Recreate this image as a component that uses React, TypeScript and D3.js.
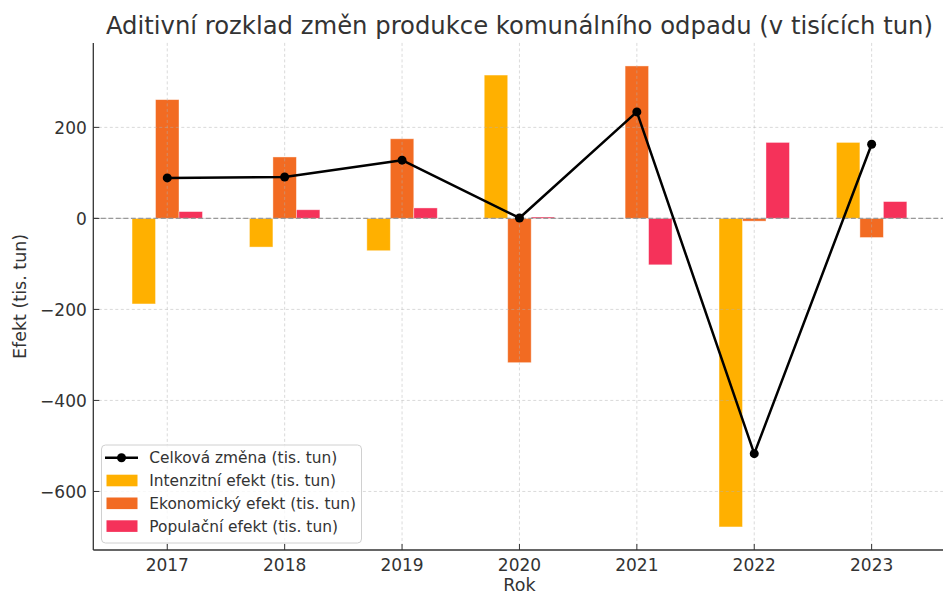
import React, { useEffect, useRef } from 'react';
import * as d3 from 'd3';

const years = [2017, 2018, 2019, 2020, 2021, 2022, 2023];
const intensity = [-188, -63, -71, 315, 0, -678, 167];
const economic = [261, 135, 175, -317, 335, -6, -42];
const population = [15, 19, 23, 3, -102, 167, 37];
const total = [89, 91, 128, 1, 234, -517, 163];
const yTicks = [-600, -400, -200, 0, 200];

const seriesNames = [
  'Intenzitní efekt (tis. tun)',
  'Ekonomický efekt (tis. tun)',
  'Populační efekt (tis. tun)',
];
const seriesColors = ['#FFB000', '#F26B22', '#F5325A'];
const totalName = 'Celková změna (tis. tun)';

const W = 943;
const H = 595;
const font = 'DejaVu Sans, sans-serif';
const textColor = '#333333';

export default function App() {
  const ref = useRef<SVGSVGElement>(null);

  useEffect(() => {
    const svg = d3.select(ref.current);
    svg.selectAll('*').remove();

    const left = 93.3, right = 945.6, top = 42.9, bottom = 550;
    const barW = 0.2;

    const allVals = [...intensity, ...economic, ...population, ...total, 0];
    const lo = d3.min(allVals)!, hi = d3.max(allVals)!;
    const pad = (hi - lo) * 0.05;
    const xLo = years[0] - 1.5 * barW, xHi = years[years.length - 1] + 1.5 * barW;
    const xPad = (xHi - xLo) * 0.05;

    const x = d3.scaleLinear().domain([xLo - xPad, xHi + xPad]).range([left, right]);
    const y = d3.scaleLinear().domain([lo - pad, hi + pad]).range([bottom, top]);

    const series = [intensity, economic, population];
    const g = svg.append('g');

    // bars
    series.forEach((vals, si) => {
      const off = (si - 1) * barW;
      g.selectAll(null)
        .data(vals)
        .enter()
        .append('rect')
        .attr('x', (d, i) => x(years[i] + off - barW / 2))
        .attr('width', x(barW) - x(0))
        .attr('y', d => Math.min(y(d), y(0)))
        .attr('height', d => Math.abs(y(d) - y(0)))
        .attr('fill', seriesColors[si])
        .attr('stroke', '#ffffff')
        .attr('stroke-opacity', 0.5)
        .attr('stroke-width', 0.8);
    });

    // grid (drawn above bars)
    const grid = svg.append('g');
    years.forEach(v => {
      grid.append('line')
        .attr('x1', x(v)).attr('x2', x(v))
        .attr('y1', top).attr('y2', bottom)
        .attr('stroke', '#b0b0b0').attr('stroke-opacity', 0.6)
        .attr('stroke-width', 0.8).attr('stroke-dasharray', '3,2.5');
    });
    yTicks.forEach(v => {
      grid.append('line')
        .attr('x1', left).attr('x2', right)
        .attr('y1', y(v)).attr('y2', y(v))
        .attr('stroke', '#b0b0b0').attr('stroke-opacity', 0.6)
        .attr('stroke-width', 0.8).attr('stroke-dasharray', '3,2.5');
    });

    // zero line
    svg.append('line')
      .attr('x1', left).attr('x2', right)
      .attr('y1', y(0)).attr('y2', y(0))
      .attr('stroke', '#999999').attr('stroke-width', 1.2)
      .attr('stroke-dasharray', '5,2.5');

    // total line
    const line = d3.line<number>().x((d, i) => x(years[i])).y(d => y(d));
    svg.append('path')
      .datum(total)
      .attr('d', line)
      .attr('fill', 'none')
      .attr('stroke', '#000')
      .attr('stroke-width', 2.5)
      .attr('stroke-linejoin', 'round');
    svg.selectAll(null)
      .data(total)
      .enter()
      .append('circle')
      .attr('cx', (d, i) => x(years[i]))
      .attr('cy', d => y(d))
      .attr('r', 4.5)
      .attr('fill', '#000');

    // spines
    svg.append('line').attr('x1', left).attr('x2', left).attr('y1', top).attr('y2', bottom)
      .attr('stroke', textColor).attr('stroke-width', 1.3);
    svg.append('line').attr('x1', left).attr('x2', W).attr('y1', bottom).attr('y2', bottom)
      .attr('stroke', textColor).attr('stroke-width', 1.3);

    // x ticks
    years.forEach(v => {
      svg.append('line').attr('x1', x(v)).attr('x2', x(v)).attr('y1', bottom).attr('y2', bottom - 6)
        .attr('stroke', textColor).attr('stroke-width', 1);
      svg.append('text').attr('x', x(v)).attr('y', bottom + 21)
        .attr('text-anchor', 'middle').attr('font-family', font).attr('font-size', 17)
        .attr('fill', textColor).text(String(v));
    });
    // y ticks
    yTicks.forEach(v => {
      svg.append('line').attr('x1', left).attr('x2', left + 6).attr('y1', y(v)).attr('y2', y(v))
        .attr('stroke', textColor).attr('stroke-width', 1);
      svg.append('text').attr('x', left - 6.5).attr('y', y(v)).attr('dy', '0.36em')
        .attr('text-anchor', 'end').attr('font-family', font).attr('font-size', 17)
        .attr('fill', textColor).text(v < 0 ? '\u2212' + Math.abs(v) : String(v));
    });

    // axis labels
    svg.append('text').attr('x', (left + right) / 2).attr('y', 591)
      .attr('text-anchor', 'middle').attr('font-family', font).attr('font-size', 17.5)
      .attr('fill', textColor).text('Rok');
    svg.append('text').attr('transform', `translate(26,${(top + bottom) / 2}) rotate(-90)`)
      .attr('text-anchor', 'middle').attr('font-family', font).attr('font-size', 17.5)
      .attr('fill', textColor).text('Efekt (tis. tun)');

    // title
    svg.append('text').attr('x', (left + right) / 2).attr('y', 34)
      .attr('text-anchor', 'middle').attr('font-family', font).attr('font-size', 24.3)
      .attr('fill', textColor).text('Aditivní rozklad změn produkce komunálního odpadu (v tisících tun)');

    // legend
    const lg = svg.append('g').attr('transform', 'translate(101.5,445)');
    lg.append('rect').attr('width', 260).attr('height', 98).attr('rx', 4)
      .attr('fill', '#fff').attr('fill-opacity', 0.8)
      .attr('stroke', '#d0d0d0').attr('stroke-width', 1);
    const rowY = (i: number) => 12.7 + i * 22.8;
    lg.append('line').attr('x1', 3.5).attr('x2', 36.5).attr('y1', rowY(0)).attr('y2', rowY(0))
      .attr('stroke', '#000').attr('stroke-width', 2.5);
    lg.append('circle').attr('cx', 20).attr('cy', rowY(0)).attr('r', 4.5).attr('fill', '#000');
    lg.append('text').attr('x', 47.8).attr('y', rowY(0)).attr('dy', '0.36em')
      .attr('font-family', font).attr('font-size', 15.4).attr('fill', textColor).text(totalName);
    seriesNames.forEach((n, i) => {
      lg.append('rect').attr('x', 5).attr('y', rowY(i + 1) - 5.8).attr('width', 31).attr('height', 11.6)
        .attr('fill', seriesColors[i]);
      lg.append('text').attr('x', 47.8).attr('y', rowY(i + 1)).attr('dy', '0.36em')
        .attr('font-family', font).attr('font-size', 15.4).attr('fill', textColor).text(n);
    });
  }, []);

  return <svg ref={ref} width={W} height={H} style={{ position: 'absolute', left: 0, top: 0 }} />;
}
